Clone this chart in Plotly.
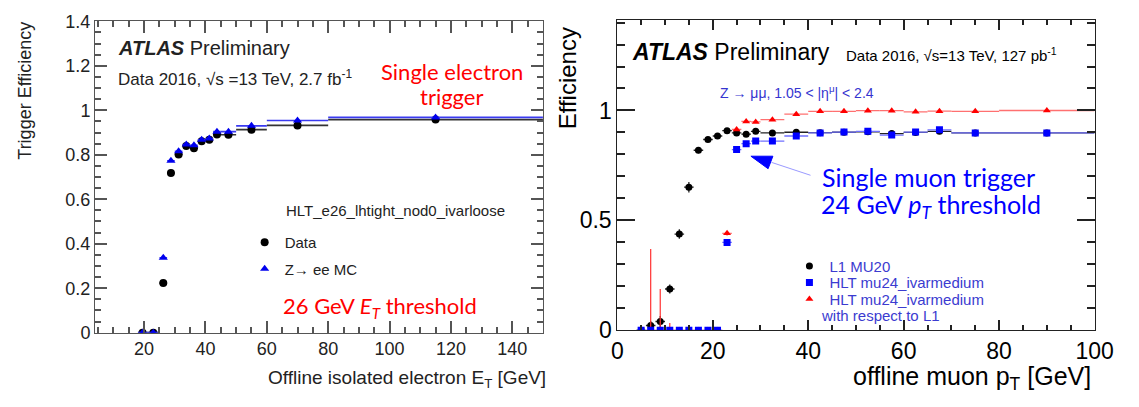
import plotly.graph_objects as go

W, H = 1139, 407

# ---------------- Left panel: single electron trigger ----------------
e_edges = [18, 21, 25, 27.5, 30, 32.5, 35, 37.5, 40, 42.5, 45, 50, 60, 80, 150]
data_eff = [0.0, 0.0, 0.223, 0.718, 0.801, 0.839, 0.829, 0.861, 0.867, 0.891, 0.890, 0.913, 0.932, 0.958]
mc_eff = [0.0, 0.0, 0.337, 0.773, 0.816, 0.846, 0.843, 0.867, 0.873, 0.904, 0.904, 0.930, 0.954, 0.968]

# ---------------- Right panel: single muon trigger ----------------
mu_edges = [4, 6, 8, 10, 12, 14, 16, 18, 20, 22, 24, 26, 28, 30,
            35, 40, 45, 50, 55, 60, 65, 70, 80, 100]
l1_eff = [0.0, 0.022, 0.040, 0.188, 0.438, 0.651, 0.819, 0.868, 0.884, 0.908, 0.898, 0.892, 0.905,
          0.898, 0.901, 0.899, 0.901, 0.903, 0.895, 0.900, 0.905, 0.898, 0.898]
l1_err = [0.005, 0.02, 0.025, 0.02, 0.022, 0.024, 0.014, 0.010, 0.008, 0.006, 0.006, 0.006, 0.006,
          0.004, 0.004, 0.004, 0.004, 0.004, 0.004, 0.004, 0.004, 0.004, 0.004]
hlt_eff = [0.0, 0.0, 0.0, 0.0, 0.0, 0.0, 0.0, 0.0, 0.0, 0.40, 0.822, 0.849, 0.861,
           0.861, 0.884, 0.898, 0.902, 0.905, 0.888, 0.902, 0.912, 0.898, 0.898]
rel_eff = [None, 0.0, 0.0, 0.0, 0.0, 0.0, 0.0, 0.0, 0.0, 0.441, 0.914, 0.950, 0.948,
           0.958, 0.983, 0.996, 0.996, 0.999, 0.999, 0.994, 0.997, 0.996, 1.0]
rel_err_up = [0.0, 0.37, 0.188, 0.033, 0.0, 0.0, 0.0, 0.0, 0.0, 0.01, 0.006, 0.005, 0.005,
              0.003, 0.003, 0.002, 0.002, 0.001, 0.001, 0.002, 0.002, 0.002, 0.0]
rel_err_dn = [0.0, 0.0, 0.0, 0.0, 0.0, 0.0, 0.0, 0.0, 0.0, 0.01, 0.006, 0.005, 0.005,
              0.003, 0.003, 0.002, 0.002, 0.001, 0.001, 0.002, 0.002, 0.002, 0.0]

e_x = [(a + b) / 2 for a, b in zip(e_edges[:-1], e_edges[1:])]
e_hw = [(b - a) / 2 for a, b in zip(e_edges[:-1], e_edges[1:])]
mu_x = [(a + b) / 2 for a, b in zip(mu_edges[:-1], mu_edges[1:])]
mu_hw = [(b - a) / 2 for a, b in zip(mu_edges[:-1], mu_edges[1:])]

ROOT_FONT = "Liberation Sans, Arial, sans-serif"
BIG_FONT = "Lato, Open Sans, sans-serif"
TXT = "#222222"
LEG_BLUE = "#3b3bd0"

fig = go.Figure()

# left traces
fig.add_trace(go.Scatter(
    x=e_x, y=data_eff, mode="markers", name="Data", legend="legend",
    marker=dict(symbol="circle", size=8, color="black"),
    error_x=dict(type="data", array=e_hw, color="#333333", thickness=1.6, width=0),
    xaxis="x", yaxis="y"))
fig.add_trace(go.Scatter(
    x=e_x, y=mc_eff, mode="markers", name="Z\u2192 ee MC", legend="legend2",
    marker=dict(symbol="triangle-up", size=8, color="#0000ee"),
    error_x=dict(type="data", array=e_hw, color="#3a3af0", thickness=1.6, width=0),
    xaxis="x", yaxis="y"))

# right traces
fig.add_trace(go.Scatter(
    x=mu_x, y=l1_eff, mode="markers", name="L1 MU20", legend="legend3",
    marker=dict(symbol="circle", size=7, color="black"),
    error_x=dict(type="data", array=mu_hw, color="#222222", thickness=1.3, width=0),
    error_y=dict(type="data", array=l1_err, color="#222222", thickness=1.3, width=0),
    xaxis="x2", yaxis="y2"))
fig.add_trace(go.Scatter(
    x=mu_x, y=rel_eff, mode="markers", name="HLT mu24_ivarmedium", legend="legend5",
    marker=dict(symbol="triangle-up", size=7, color="#ff0000"),
    error_x=dict(type="data", array=mu_hw, color="#ff7070", thickness=1.3, width=0),
    error_y=dict(type="data", symmetric=False, array=rel_err_up, arrayminus=rel_err_dn,
                 color="#ff3030", thickness=1.2, width=0),
    xaxis="x2", yaxis="y2"))
fig.add_trace(go.Scatter(
    x=mu_x, y=hlt_eff, mode="markers", name="HLT mu24_ivarmedium", legend="legend4",
    marker=dict(symbol="square", size=7, color="#0000ff"),
    error_x=dict(type="data", array=mu_hw, color="#6f6fff", thickness=1.3, width=0),
    xaxis="x2", yaxis="y2"))


def px(x):
    return x / W


def py(y):
    return 1 - y / H


def axis(color, labcolor, fsize, domain, rng, anchor, dtick, ticklen, mdtick, mticklen):
    return dict(domain=domain, range=rng, anchor=anchor,
                showgrid=False, zeroline=False, showline=True, linecolor=color, linewidth=1,
                mirror="allticks", ticks="inside", tickcolor=color, tickwidth=2,
                ticklen=ticklen, tickmode="linear", tick0=0, dtick=dtick,
                tickfont=dict(family=ROOT_FONT, color=labcolor, size=fsize),
                minor=dict(ticks="inside", dtick=mdtick, ticklen=mticklen, tickcolor=color,
                           tickwidth=1.5, showgrid=False))


def legend_at(x, ytop, size, color):
    return dict(x=px(x), y=py(ytop), xanchor="left", yanchor="top", bgcolor="rgba(0,0,0,0)",
                font=dict(family=ROOT_FONT, size=size, color=color))


fig.update_layout(
    width=W, height=H, margin=dict(l=0, r=0, t=0, b=0),
    paper_bgcolor="white", plot_bgcolor="rgba(0,0,0,0)",
    xaxis=axis("#555555", TXT, 18, [px(91), px(549)], [4, 150], "y", 20, 12, 5, 6),
    yaxis=axis("#555555", TXT, 18, [py(342), py(12)], [0, 1.4], "x", 0.2, 12, 0.05, 6),
    xaxis2=axis("#222222", "black", 23, [px(625), px(1113)], [0, 100], "y2", 20, 10, 5, 5),
    yaxis2=axis("#222222", "black", 23, [py(339.5), py(10.5)], [0, 1.412], "x2", 0.5, 18, 0.1, 8),
    legend=legend_at(244, 229, 15, TXT),
    legend2=legend_at(244, 257, 15, TXT),
    legend3=legend_at(801, 254, 15, LEG_BLUE),
    legend4=legend_at(801, 271.5, 15, LEG_BLUE),
    legend5=legend_at(801, 289, 15, LEG_BLUE),
    showlegend=True,
)

ann = []


def add_text(text, x, y, size, color=TXT, family=ROOT_FONT, xanchor="left", yanchor="middle",
             angle=0, align="left"):
    ann.append(dict(text=text, x=px(x), y=py(y), xref="paper", yref="paper", showarrow=False,
                    xanchor=xanchor, yanchor=yanchor, textangle=angle, align=align,
                    font=dict(family=family, size=size, color=color)))


# left panel texts
add_text("<b><i>ATLAS</i></b> Preliminary", 112, 40, 20)
add_text("Data 2016, \u221as =13 TeV, 2.7 fb<sup>-1</sup>", 112, 72, 17)
add_text("Single electron", 456, 65, 22, color="#ff0000", family=BIG_FONT, xanchor="center")
add_text("trigger", 456, 92, 22, color="#ff0000", family=BIG_FONT, xanchor="center")
add_text("HLT_e26_lhtight_nod0_ivarloose", 284, 213, 15)
add_text("26 GeV <i>E</i><sub><i>T</i></sub> threshold", 281, 315, 22, color="#ff0000", family=BIG_FONT)
add_text("Offline isolated electron E<sub>T</sub> [GeV]", 266, 391, 19)
add_text("Trigger Efficiency", 20, 86, 18, xanchor="center", angle=-90)

# right panel texts
add_text("<b><i>ATLAS</i></b> Preliminary", 638, 44, 23, color="black")
add_text("Data 2016, \u221as=13 TeV, 127 pb<sup>-1</sup>", 857, 47, 15, color="black")
add_text("Z \u2192 \u03bc\u03bc, 1.05 < |\u03b7<sup>\u03bc</sup>| < 2.4", 728, 87, 14, color="#3535d0")
add_text("Single muon trigger", 832, 177, 25, color="#0000ff", family=BIG_FONT)
add_text("24 GeV <i>p</i><sub><i>T</i></sub> threshold", 831, 208, 25, color="#0000ff", family=BIG_FONT)
add_text("with respect to L1", 831, 324, 15, color=LEG_BLUE)
add_text("offline muon p<sub>T</sub> [GeV]", 864, 390, 25, color="black")
add_text("Efficiency", 575, 72, 24, color="black", xanchor="center", angle=-90)

# arrow (line + head)
ann.append(dict(x=32.3, y=0.764, ax=40.8, ay=0.703, xref="x2", yref="y2", axref="x2", ayref="y2",
                text="", showarrow=True, arrowhead=0, arrowwidth=1, arrowcolor="#9a9aff"))
fig.update_layout(annotations=ann)
fig.add_shape(type="path", xref="x2", yref="y2",
              path="M 28.0 0.792 L 32.6 0.792 L 31.6 0.735 Z",
              fillcolor="#0000ff", line=dict(color="#0000ff", width=1))

fig.write_html("out.html")
